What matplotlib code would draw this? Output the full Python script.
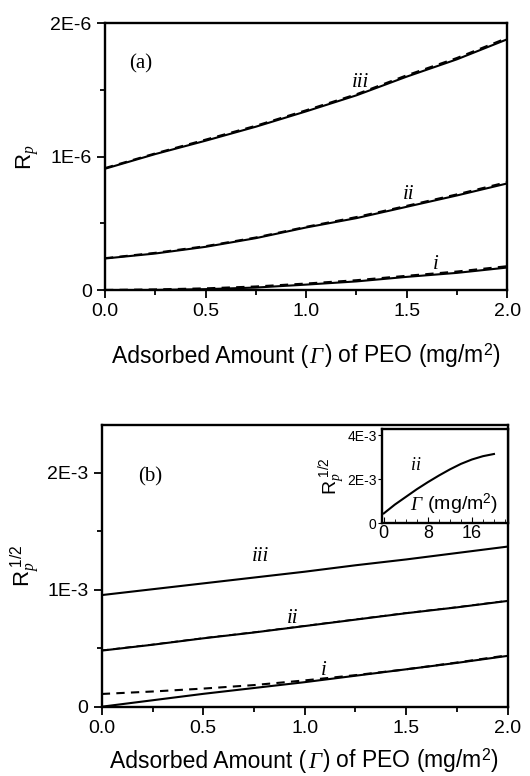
import numpy as np
import matplotlib
matplotlib.use("Agg")
import matplotlib.pyplot as plt
from matplotlib.ticker import FixedLocator
from matplotlib.offsetbox import TextArea, HPacker, AnchoredOffsetbox

plt.rcParams['font.family'] = ['Liberation Sans', 'DejaVu Sans']
plt.rcParams['mathtext.fontset'] = 'custom'
plt.rcParams['mathtext.rm'] = 'Liberation Sans'
plt.rcParams['mathtext.it'] = 'Liberation Serif:italic'

# shared x grid (mg/m2)
gamma = [0.0, 0.25, 0.5, 0.75, 1.0, 1.25, 1.5, 1.75, 2.0]

# panel (a): Rp (units of 1E-6)
a_iii = [0.91, 1.02, 1.12, 1.225, 1.34, 1.46, 1.60, 1.73, 1.88]
a_iii_d = [0.915, 1.025, 1.128, 1.232, 1.348, 1.468, 1.61, 1.74, 1.89]
a_ii = [0.2375, 0.275, 0.325, 0.39, 0.47, 0.54, 0.625, 0.71, 0.80]
a_ii_d = [0.24, 0.28, 0.33, 0.395, 0.475, 0.548, 0.632, 0.718, 0.81]
a_i = [0.0, 0.002, 0.008, 0.02, 0.042, 0.066, 0.10, 0.13, 0.17]
a_i_d = [0.002, 0.006, 0.014, 0.028, 0.05, 0.075, 0.108, 0.14, 0.18]

# panel (b): Rp^1/2 (units of 1E-3)
b_iii = [0.955, 1.005, 1.055, 1.105, 1.155, 1.21, 1.26, 1.315, 1.37]
b_ii = [0.48, 0.53, 0.585, 0.635, 0.69, 0.745, 0.80, 0.85, 0.905]
b_i = [0.0, 0.055, 0.11, 0.16, 0.21, 0.265, 0.32, 0.375, 0.435]
b_i_d = [0.109, 0.13, 0.155, 0.185, 0.225, 0.27, 0.32, 0.378, 0.44]

# inset: curve ii over a wide range
inset_x = [0, 2, 4, 6, 8, 10, 12, 14, 16, 18, 20]
inset_y = [0.45, 0.85, 1.2, 1.55, 1.87, 2.17, 2.45, 2.7, 2.9, 3.05, 3.15]

xticks = [0.0, 0.5, 1.0, 1.5, 2.0]
xtick_labels = ['0.0', '0.5', '1.0', '1.5', '2.0']
xminor = [0.25, 0.75, 1.25, 1.75]

fig = plt.figure(figsize=(5.3, 7.76), dpi=100)
axA = fig.add_axes([0.198, 0.626, 0.759, 0.344])
axB = fig.add_axes([0.192, 0.0893, 0.766, 0.363])
axI = fig.add_axes([0.721, 0.3256, 0.237, 0.122])

x = np.array(gamma)


def style(ax, fs=14):
    for s in ax.spines.values():
        s.set_linewidth(1.7)
    ax.tick_params(which='both', direction='out', top=False, right=False,
                   labelsize=fs, width=1.3)
    ax.tick_params(which='major', length=6)
    ax.tick_params(which='minor', length=3.5)
    ax.xaxis.set_major_locator(FixedLocator(xticks))
    ax.xaxis.set_minor_locator(FixedLocator(xminor))
    ax.set_xticklabels(xtick_labels)


def gamma_xlabel(ax, y, fs=16.5):
    # "Adsorbed Amount (Γ) of PEO (mg/m²)" with italic serif Γ
    sans = dict(fontsize=fs, family='Liberation Sans')
    parts = [TextArea("Adsorbed Amount (", textprops=sans),
             TextArea("Γ", textprops=dict(fontsize=fs, family='Liberation Serif', style='italic')),
             TextArea(") of PEO (mg/m$^2$)", textprops=sans)]
    box = HPacker(children=parts, pad=0, sep=1, align='baseline')
    anc = AnchoredOffsetbox(loc='upper center', child=box, pad=0, borderpad=0,
                            frameon=False, bbox_to_anchor=(0.5, y),
                            bbox_transform=ax.transAxes)
    ax.add_artist(anc)


for ys, yd in [(a_iii, a_iii_d), (a_ii, a_ii_d), (a_i, a_i_d)]:
    axA.plot(x, np.array(ys) * 1e-6, 'k-', lw=1.5)
    axA.plot(x, np.array(yd) * 1e-6, 'k--', lw=1.5, dashes=(4, 3))
axA.set_xlim(0, 2)
axA.set_ylim(0, 2e-6)
style(axA)
axA.yaxis.set_major_locator(FixedLocator([0, 1e-6, 2e-6]))
axA.yaxis.set_minor_locator(FixedLocator([0.5e-6, 1.5e-6]))
axA.set_yticklabels(['0', '1E-6', '2E-6'])
axA.set_ylabel(r"$\mathrm{R}_{\mathit{p}}$", fontsize=16, labelpad=7)
gamma_xlabel(axA, -0.19)
serif = dict(family='Liberation Serif', fontsize=15)
axA.text(0.12, 1.66e-6, "(a)", **serif)
axA.text(1.23, 1.52e-6, "iii", style='italic', **serif)
axA.text(1.48, 0.68e-6, "ii", style='italic', **serif)
axA.text(1.63, 0.16e-6, "i", style='italic', **serif)

axB.plot(x, np.array(b_iii) * 1e-3, 'k-', lw=1.5)
axB.plot(x, np.array(b_ii) * 1e-3, 'k-', lw=1.5)
axB.plot(x, np.array(b_ii) * 1e-3 + 2e-6, 'k--', lw=1.2, dashes=(4, 3))
axB.plot(x, np.array(b_i) * 1e-3, 'k-', lw=1.5)
axB.plot(x, np.array(b_i_d) * 1e-3, 'k--', lw=1.5, dashes=(4, 3))
axB.set_xlim(0, 2)
axB.set_ylim(0, 2.41e-3)
style(axB)
axB.yaxis.set_major_locator(FixedLocator([0, 1e-3, 2e-3]))
axB.yaxis.set_minor_locator(FixedLocator([0.5e-3, 1.5e-3]))
axB.set_yticklabels(['0', '1E-3', '2E-3'])
axB.set_ylabel(r"$\mathrm{R}_{\mathit{p}}^{\ \mathit{1/2}}$", fontsize=16, labelpad=4)
gamma_xlabel(axB, -0.14)
axB.text(0.18, 1.93e-3, "(b)", **serif)
axB.text(0.74, 1.25e-3, "iii", style='italic', **serif)
axB.text(0.91, 0.72e-3, "ii", style='italic', **serif)
axB.text(1.08, 0.27e-3, "i", style='italic', **serif)

axI.plot(inset_x, np.array(inset_y) * 1e-3, 'k-', lw=1.5)
axI.set_xlim(-0.3, 22.5)
axI.set_ylim(0, 4.3e-3)
axI.xaxis.set_major_locator(FixedLocator([0, 8, 16]))
axI.xaxis.set_minor_locator(FixedLocator([2, 4, 6, 10, 12, 14, 18, 20, 22]))
axI.yaxis.set_major_locator(FixedLocator([0, 2e-3, 4e-3]))
axI.set_yticklabels(['0', '2E-3', '4E-3'])
axI.set_xticklabels(['0', '8', '16'])
for s in axI.spines.values():
    s.set_linewidth(1.7)
axI.tick_params(axis='x', which='both', direction='in', labelsize=13, pad=1)
axI.tick_params(axis='x', which='major', length=4)
axI.tick_params(axis='x', which='minor', length=3)
axI.tick_params(axis='y', direction='out', length=3, labelsize=10, pad=1)
axI.set_ylabel(r"$\mathrm{R}_{\mathit{p}}^{\ \mathit{1/2}}$", fontsize=14)
axI.yaxis.set_label_coords(-0.275, 0.5)
axI.text(5.0, 2.4e-3, "ii", style='italic', family='Liberation Serif', fontsize=13)
gi = TextArea("Γ", textprops=dict(fontsize=14, family='Liberation Serif', style='italic'))
gu = TextArea(" (mg/m$^2$)", textprops=dict(fontsize=14, family='Liberation Sans'))
ibox = AnchoredOffsetbox(loc='lower left', child=HPacker(children=[gi, gu], pad=0, sep=1,
                                                          align='baseline'),
                         pad=0, borderpad=0, frameon=False,
                         bbox_to_anchor=(0.22, 0.07), bbox_transform=axI.transAxes)
axI.add_artist(ibox)

fig.savefig("out.png", dpi=100)
